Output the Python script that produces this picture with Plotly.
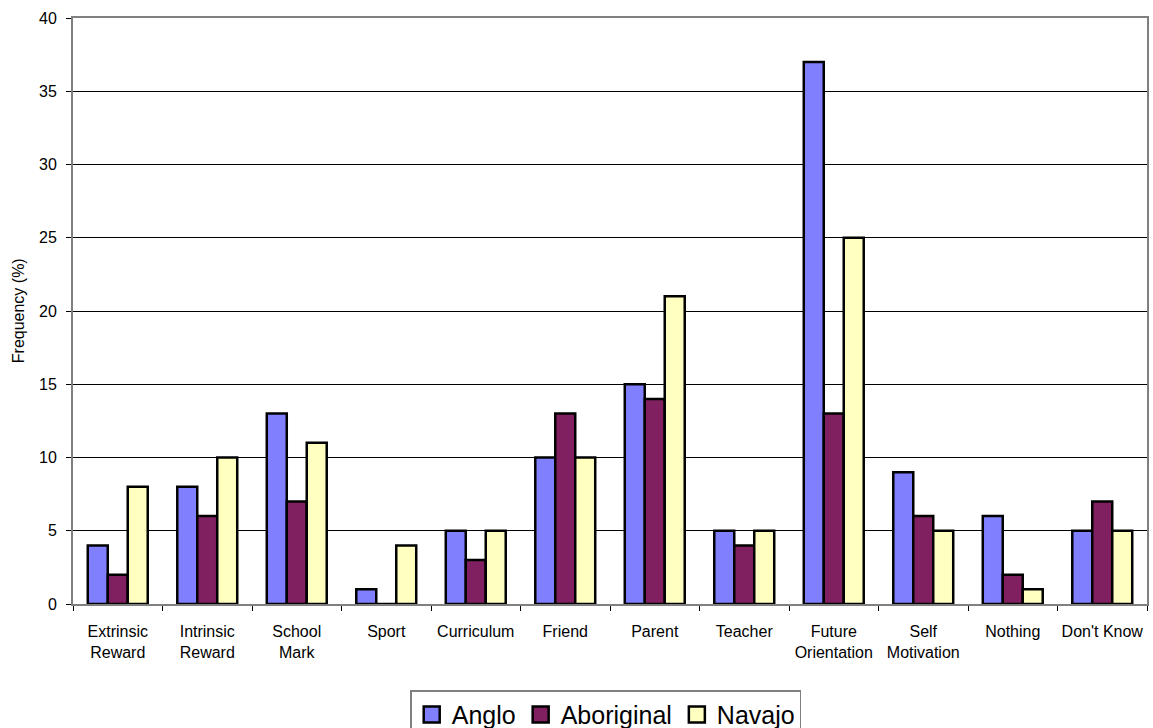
import plotly.graph_objects as go

categories = ["Extrinsic<br>Reward", "Intrinsic<br>Reward", "School<br>Mark", "Sport",
              "Curriculum", "Friend", "Parent", "Teacher", "Future<br>Orientation",
              "Self<br>Motivation", "Nothing", "Don't Know"]
anglo = [4, 8, 13, 1, 5, 10, 15, 5, 37, 9, 6, 5]
aboriginal = [2, 6, 7, 0, 3, 13, 14, 4, 13, 6, 2, 7]
navajo = [8, 10, 11, 4, 5, 10, 21, 5, 25, 5, 1, 5]

series = [("Anglo", anglo, "#8080FF"),
          ("Aboriginal", aboriginal, "#802060"),
          ("Navajo", navajo, "#FFFFC0")]

fig = go.Figure()
for name, vals, color in series:
    fig.add_trace(go.Bar(
        x=categories, y=vals, name=name, showlegend=False,
        marker=dict(color=color, line=dict(color="black", width=2.5)),
    ))
# square swatches for the legend
for name, vals, color in series:
    fig.add_trace(go.Scatter(
        x=[None], y=[None], mode="markers", name=name, showlegend=True,
        marker=dict(symbol="square", size=17, color=color,
                    line=dict(color="black", width=2.5)),
    ))

fig.update_layout(
    width=1153, height=728,
    margin=dict(l=73, r=6, t=18, b=124, autoexpand=False),
    paper_bgcolor="white", plot_bgcolor="white",
    font=dict(family="Liberation Sans, Arial, sans-serif", color="black", size=16),
    barmode="group", bargap=0.33, bargroupgap=0,
    showlegend=True,
    legend=dict(orientation="h", x=0.496, xanchor="center",
                yref="container", y=0.052, yanchor="top",
                font=dict(size=25), bordercolor="#808080", borderwidth=1.5,
                traceorder="normal", itemwidth=30, tracegroupgap=0),
    annotations=[dict(text="Frequency (%)", textangle=-90, font=dict(size=16),
                      xref="paper", yref="paper", x=-0.051, y=0.5,
                      xanchor="center", yanchor="middle", showarrow=False)],
)
fig.update_xaxes(
    type="category", tickson="boundaries", ticks="outside", ticklen=5,
    tickcolor="black", showline=True, linecolor="#808080", linewidth=2,
    mirror=True, showgrid=False, tickfont=dict(size=16), tickangle=0,
    automargin=False, ticklabelstandoff=12,
)
fig.update_yaxes(
    range=[0, 40], dtick=5, ticks="outside", ticklen=5, tickcolor="black",
    showline=True, linecolor="#808080", linewidth=2, mirror=True,
    showgrid=True, gridcolor="black", gridwidth=1, zeroline=False,
    tickfont=dict(size=16), automargin=False, ticklabelstandoff=6,
)
fig.write_html("out.html")
